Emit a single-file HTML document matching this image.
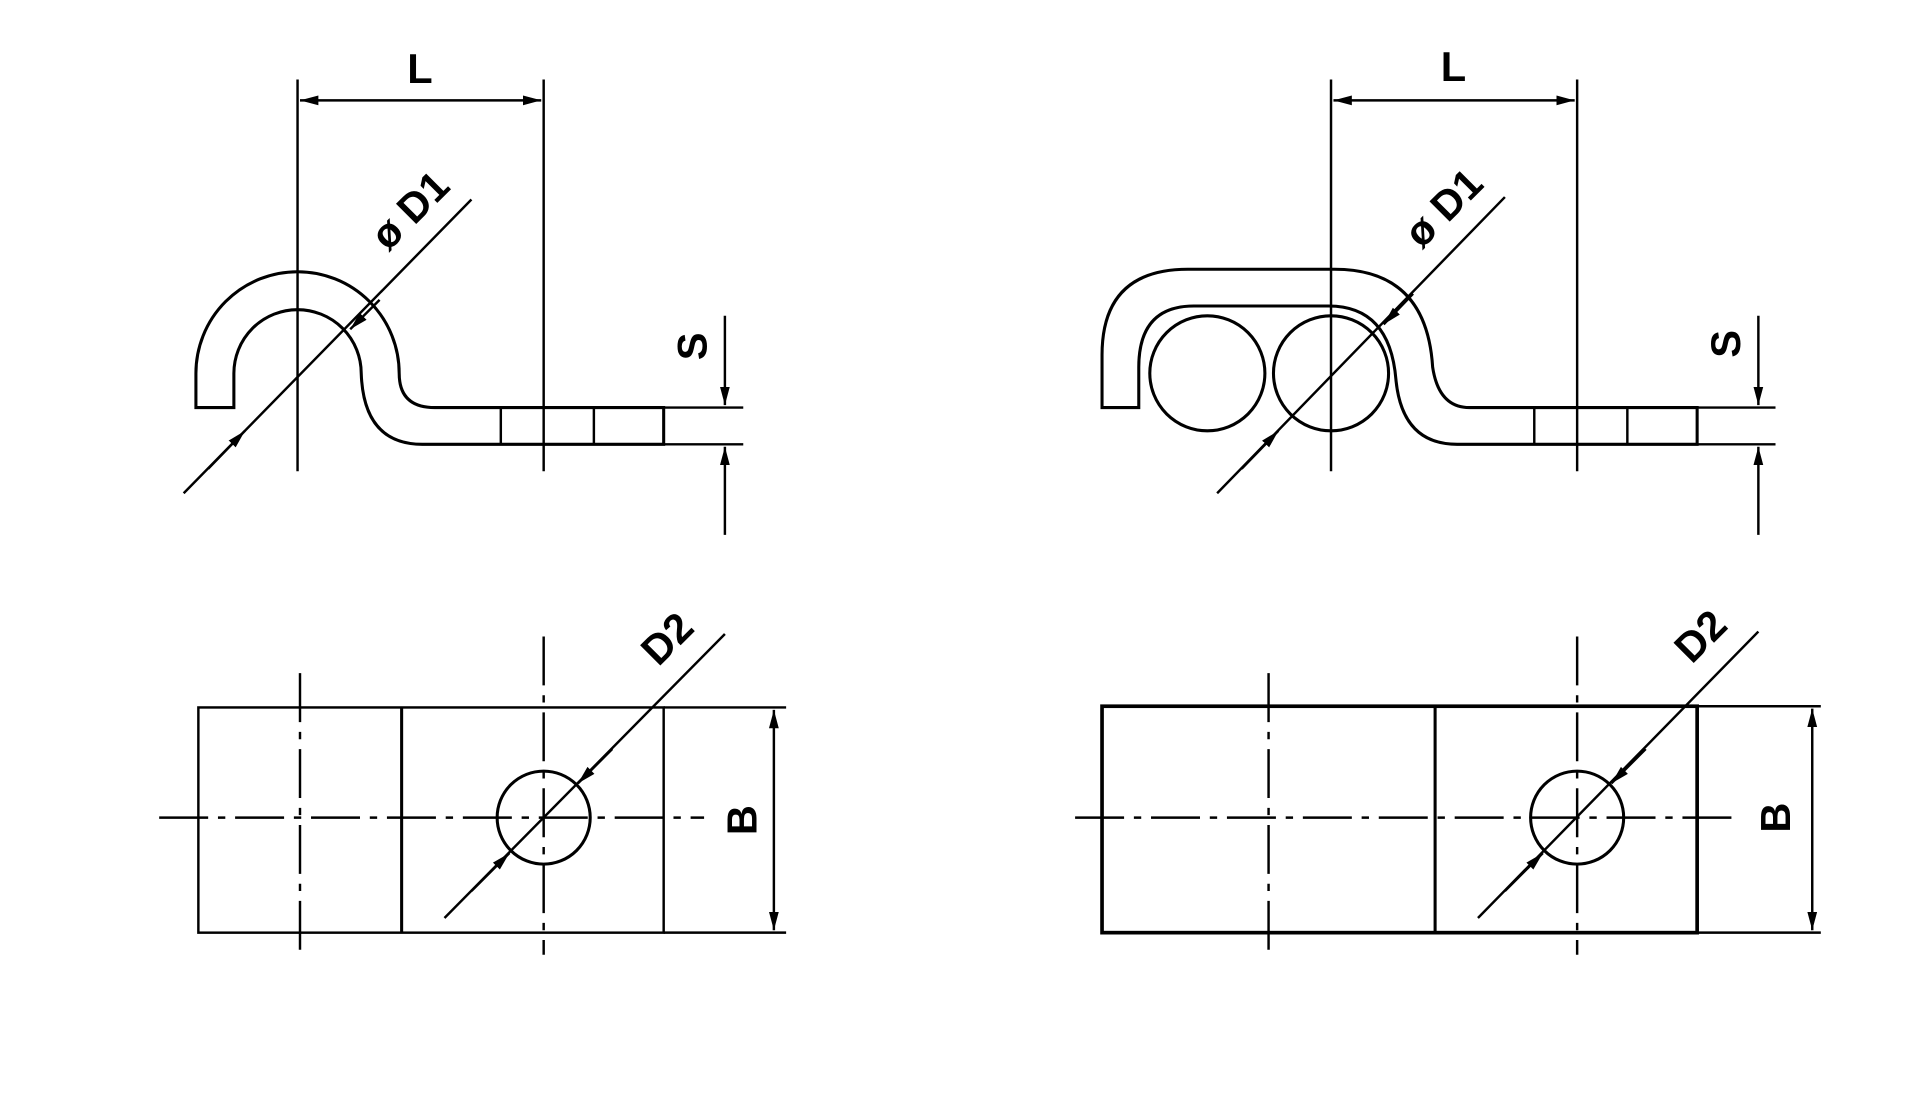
<!DOCTYPE html>
<html><head><meta charset="utf-8"><style>
html,body{margin:0;padding:0;background:#fff;width:1920px;height:1093px;overflow:hidden}
svg{display:block}
text{font-family:"Liberation Sans",sans-serif;font-weight:bold;font-size:34px;fill:#000}
</style></head><body>
<svg width="1920" height="1093" viewBox="0 0 1568 893" preserveAspectRatio="none">
<defs>
<marker id="a" viewBox="0 0 10 10" refX="10" refY="5" markerWidth="15" markerHeight="10" orient="auto-start-reverse" markerUnits="userSpaceOnUse" preserveAspectRatio="none"><path d="M0,1 L10,5 L0,9 Z" fill="#000"/></marker>
</defs>
<g stroke="#000" fill="none" stroke-width="2">
<line x1="243" y1="65" x2="243" y2="385"/>
<line x1="444" y1="65" x2="444" y2="385"/>
<line x1="245" y1="82" x2="442" y2="82" marker-start="url(#a)" marker-end="url(#a)"/>
<path d="M160,333 V305 A83,83 0 0 1 326,305 Q326,333 355,333 H542 V363 H345 Q297,363 295,305 A52,52 0 0 0 191,305 V333 Z" stroke-width="2.5"/>
<line x1="409" y1="333" x2="409" y2="363"/>
<line x1="485" y1="333" x2="485" y2="363"/>
<line x1="150" y1="403" x2="385" y2="163"/>
<line x1="170" y1="383" x2="200" y2="352" marker-end="url(#a)"/>
<line x1="310" y1="245" x2="286" y2="269" marker-end="url(#a)"/>
<line x1="542" y1="333" x2="607" y2="333"/>
<line x1="542" y1="363" x2="607" y2="363"/>
<line x1="592" y1="258" x2="592" y2="331" marker-end="url(#a)"/>
<line x1="592" y1="437" x2="592" y2="365" marker-end="url(#a)"/>
<rect x="162" y="578" width="380" height="184"/>
<line x1="328" y1="578" x2="328" y2="762" stroke-width="2.5"/>
<line x1="130" y1="668" x2="575" y2="668" stroke-dasharray="40,8,6,8"/>
<line x1="245" y1="550" x2="245" y2="780" stroke-dasharray="40,8,6,8"/>
<line x1="444" y1="520" x2="444" y2="780" stroke-dasharray="40,8,6,8"/>
<circle cx="444" cy="668" r="38" stroke-width="2.5"/>
<line x1="363" y1="750" x2="592" y2="518"/>
<line x1="385" y1="728" x2="416" y2="697" marker-end="url(#a)"/>
<line x1="500" y1="612" x2="472" y2="640" marker-end="url(#a)"/>
<line x1="542" y1="578" x2="642" y2="578"/>
<line x1="542" y1="762" x2="642" y2="762"/>
<line x1="632" y1="580" x2="632" y2="760" marker-start="url(#a)" marker-end="url(#a)"/>
<line x1="1087" y1="65" x2="1087" y2="385"/>
<line x1="1288" y1="65" x2="1288" y2="385"/>
<line x1="1089" y1="82" x2="1286" y2="82" marker-start="url(#a)" marker-end="url(#a)"/>
<path d="M900,333 V290 Q900,220 970,220 H1090 Q1165,220 1170,300 Q1175,333 1200,333 H1386 V363 H1190 Q1145,363 1140,310 Q1135,250 1085,250 H975 Q930,250 930,300 V333 Z" stroke-width="2.5"/>
<circle cx="986" cy="305" r="47" stroke-width="2.5"/>
<circle cx="1087" cy="305" r="47" stroke-width="2.5"/>
<line x1="1253" y1="333" x2="1253" y2="363"/>
<line x1="1329" y1="333" x2="1329" y2="363"/>
<line x1="994" y1="403" x2="1229" y2="161"/>
<line x1="1014" y1="383" x2="1044" y2="352" marker-end="url(#a)"/>
<line x1="1154" y1="240" x2="1130" y2="265" marker-end="url(#a)"/>
<line x1="1386" y1="333" x2="1450" y2="333"/>
<line x1="1386" y1="363" x2="1450" y2="363"/>
<line x1="1436" y1="258" x2="1436" y2="331" marker-end="url(#a)"/>
<line x1="1436" y1="437" x2="1436" y2="365" marker-end="url(#a)"/>
<rect x="900" y="577" width="486" height="185" stroke-width="3"/>
<line x1="1172" y1="577" x2="1172" y2="762" stroke-width="2.5"/>
<line x1="878" y1="668" x2="1420" y2="668" stroke-dasharray="40,8,6,8"/>
<line x1="1036" y1="550" x2="1036" y2="780" stroke-dasharray="40,8,6,8"/>
<line x1="1288" y1="520" x2="1288" y2="780" stroke-dasharray="40,8,6,8"/>
<circle cx="1288" cy="668" r="38" stroke-width="2.5"/>
<line x1="1207" y1="750" x2="1436" y2="516"/>
<line x1="1229" y1="728" x2="1260" y2="697" marker-end="url(#a)"/>
<line x1="1344" y1="612" x2="1316" y2="640" marker-end="url(#a)"/>
<line x1="1386" y1="577" x2="1487" y2="577"/>
<line x1="1386" y1="762" x2="1487" y2="762"/>
<line x1="1480" y1="579" x2="1480" y2="760" marker-start="url(#a)" marker-end="url(#a)"/>
</g>
<g>
<text x="343" y="68" text-anchor="middle">L</text>
<text x="1187" y="66" text-anchor="middle">L</text>
<text transform="translate(343,180) rotate(-45)" text-anchor="middle">ø D1</text>
<text transform="translate(1187,178) rotate(-45)" text-anchor="middle">ø D1</text>
<text transform="translate(577,283) rotate(-90)" text-anchor="middle" font-size="28">S</text>
<text transform="translate(1421,281) rotate(-90)" text-anchor="middle" font-size="28">S</text>
<text transform="translate(553,530) rotate(-45)" text-anchor="middle">D2</text>
<text transform="translate(1397,528) rotate(-45)" text-anchor="middle">D2</text>
<text transform="translate(618,670) rotate(-90)" text-anchor="middle">B</text>
<text transform="translate(1462,668) rotate(-90)" text-anchor="middle">B</text>
</g>
</svg>
</body></html>
